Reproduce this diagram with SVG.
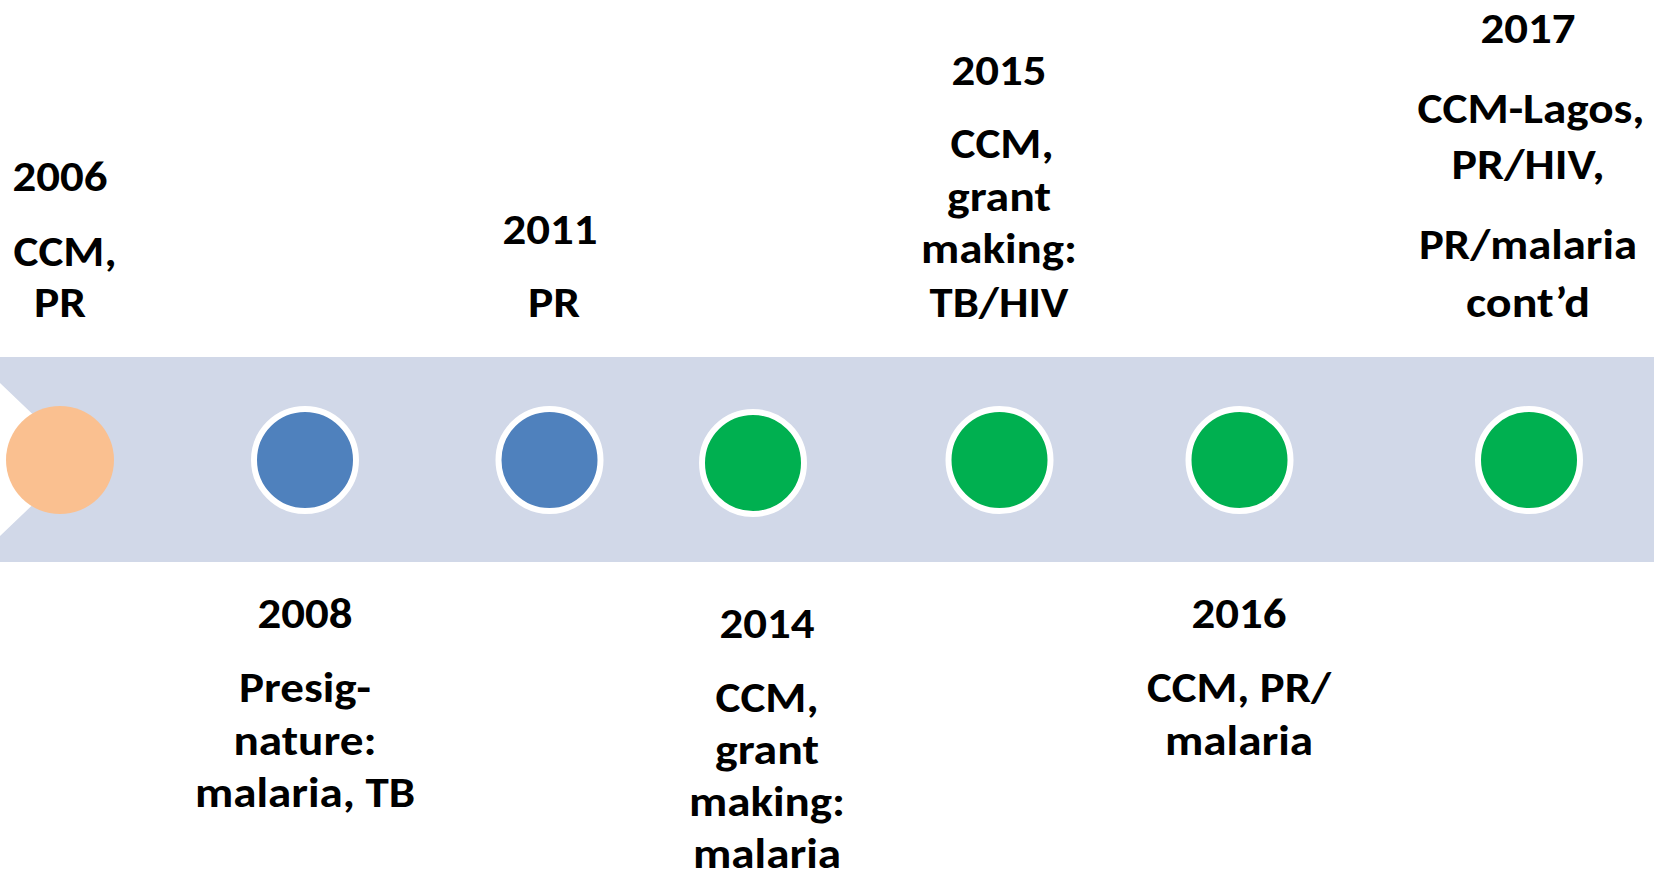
<svg xmlns="http://www.w3.org/2000/svg" width="1654" height="872" viewBox="0 0 1654 872">
<style>
.t{font-family:Carlito,"Liberation Sans",Arial,sans-serif;font-weight:bold;font-size:42px;fill:#000;text-anchor:middle}
.dot{stroke:#fff;stroke-width:6}
.blue{fill:#4F81BD}
.green{fill:#00B050}
</style>
<rect width="1654" height="872" fill="#fff"/>
<polygon id="band" points="0,357 1654,357 1654,562 0,562 0,536 80,459.5 0,383" fill="#D1D8E8"/>
<g id="e2006">
<circle cx="60" cy="460" r="54" fill="#FAC090"/>
<text class="t" x="60" y="191" textLength="95" lengthAdjust="spacingAndGlyphs">2006</text>
<text class="t" x="65" y="266" textLength="103" lengthAdjust="spacingAndGlyphs">CCM,</text>
<text class="t" x="60" y="317" textLength="52" lengthAdjust="spacingAndGlyphs">PR</text>
</g>
<g id="e2008">
<circle class="dot blue" cx="305" cy="460" r="51"/>
<text class="t" x="305" y="628" textLength="95" lengthAdjust="spacingAndGlyphs">2008</text>
<text class="t" x="305" y="702" textLength="132" lengthAdjust="spacingAndGlyphs">Presig-</text>
<text class="t" x="305" y="755" textLength="143" lengthAdjust="spacingAndGlyphs">nature:</text>
<text class="t" x="305" y="807" textLength="220" lengthAdjust="spacingAndGlyphs">malaria, TB</text>
</g>
<g id="e2011">
<circle class="dot blue" cx="549.5" cy="460" r="51"/>
<text class="t" x="550" y="244" textLength="95" lengthAdjust="spacingAndGlyphs">2011</text>
<text class="t" x="554" y="317" textLength="52" lengthAdjust="spacingAndGlyphs">PR</text>
</g>
<g id="e2014">
<circle class="dot green" cx="753" cy="463" r="51"/>
<text class="t" x="767" y="638" textLength="95" lengthAdjust="spacingAndGlyphs">2014</text>
<text class="t" x="767" y="712" textLength="103" lengthAdjust="spacingAndGlyphs">CCM,</text>
<text class="t" x="767" y="764" textLength="104" lengthAdjust="spacingAndGlyphs">grant</text>
<text class="t" x="767" y="816" textLength="156" lengthAdjust="spacingAndGlyphs">making:</text>
<text class="t" x="767" y="868" textLength="148" lengthAdjust="spacingAndGlyphs">malaria</text>
</g>
<g id="e2015">
<circle class="dot green" cx="999.5" cy="460" r="51"/>
<text class="t" x="999" y="85" textLength="95" lengthAdjust="spacingAndGlyphs">2015</text>
<text class="t" x="1002" y="158" textLength="103" lengthAdjust="spacingAndGlyphs">CCM,</text>
<text class="t" x="999" y="211" textLength="104" lengthAdjust="spacingAndGlyphs">grant</text>
<text class="t" x="999" y="263" textLength="156" lengthAdjust="spacingAndGlyphs">making:</text>
<text class="t" x="999" y="317" textLength="139" lengthAdjust="spacingAndGlyphs">TB/HIV</text>
</g>
<g id="e2016">
<circle class="dot green" cx="1239.5" cy="460" r="51"/>
<text class="t" x="1239" y="628" textLength="95" lengthAdjust="spacingAndGlyphs">2016</text>
<text class="t" x="1239" y="702" textLength="184" lengthAdjust="spacingAndGlyphs">CCM, PR/</text>
<text class="t" x="1239" y="755" textLength="148" lengthAdjust="spacingAndGlyphs">malaria</text>
</g>
<g id="e2017">
<circle class="dot green" cx="1529" cy="460" r="51"/>
<text class="t" x="1528" y="43" textLength="95" lengthAdjust="spacingAndGlyphs">2017</text>
<text class="t" x="1531" y="123" textLength="227" lengthAdjust="spacingAndGlyphs">CCM-Lagos,</text>
<text class="t" x="1528" y="179" textLength="153" lengthAdjust="spacingAndGlyphs">PR/HIV,</text>
<text class="t" x="1528" y="259" textLength="218" lengthAdjust="spacingAndGlyphs">PR/malaria</text>
<text class="t" x="1528" y="317" textLength="124" lengthAdjust="spacingAndGlyphs">cont’d</text>
</g>
</svg>
